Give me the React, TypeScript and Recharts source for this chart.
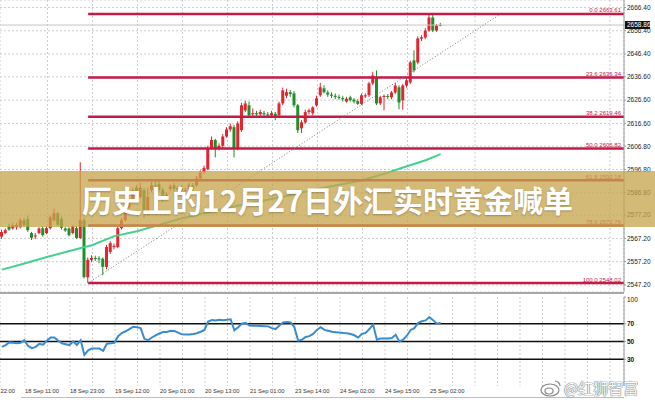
import React from 'react';
import {
  ComposedChart, Bar, Line, XAxis, YAxis, CartesianGrid, ReferenceLine,
} from 'recharts';

// hourly XAUUSD candles, oldest first
const OPEN = [
  2568, 2569.5, 2572.5, 2571.5, 2572, 2572, 2575, 2575.5, 2569.5, 2568,
  2569.5, 2571.5, 2569.5, 2571.6, 2575, 2578, 2575.5, 2571.5, 2571.5, 2569.5,
  2571.6, 2567.4, 2575, 2550.5, 2558, 2558.8, 2558.6, 2558.5, 2555, 2561.4,
  2563.5, 2563.5, 2571.6, 2575, 2580.6, 2583, 2589, 2585, 2588, 2578.1,
  2588, 2590, 2590.5, 2588, 2584.5, 2588.5, 2590, 2588, 2589, 2587.5,
  2588, 2590, 2590, 2593, 2595.5, 2597, 2606, 2609.5, 2606, 2607,
  2611, 2614, 2615, 2606, 2613.7, 2622.2, 2624.4, 2620.5, 2621, 2620.5,
  2621, 2620.5, 2620, 2620.8, 2620.1, 2625.2, 2628.5, 2630, 2629.5, 2624.4,
  2614.5, 2617, 2621.5, 2621, 2624.4, 2628.7, 2631.7, 2629.9, 2629, 2628.5,
  2628, 2627.5, 2626, 2627.8, 2626.8, 2626.2, 2625, 2628.2, 2628.7, 2633.8,
  2636.4, 2625.2, 2628, 2628.4, 2627.8, 2629.9, 2632.1, 2626.5, 2632.9, 2634.2,
  2643.7, 2642.8, 2653, 2653.5, 2656.5, 2662.1, 2656.5, 2658.9,
];
const HIGH = [
  2571, 2571.5, 2573.5, 2574, 2574, 2576, 2576, 2577, 2570, 2569.5,
  2572, 2572.5, 2572.5, 2577, 2580, 2578.5, 2576.5, 2572, 2572, 2573,
  2572.5, 2599.9, 2576, 2559, 2560, 2559.8, 2559.6, 2559, 2564.5, 2566,
  2565, 2572.5, 2576, 2579.5, 2585, 2589, 2590, 2591, 2589, 2589,
  2591.5, 2592, 2592, 2589, 2587, 2590.5, 2591, 2590, 2590, 2589,
  2591, 2591, 2594, 2596.5, 2598.5, 2607, 2611, 2610, 2608, 2612,
  2615, 2616.5, 2616, 2617.5, 2625.5, 2626.3, 2626, 2623, 2622, 2622.5,
  2622, 2621.5, 2622, 2621.5, 2626, 2632, 2631.5, 2631, 2630.5, 2625,
  2618, 2622.5, 2623, 2624, 2628.5, 2634, 2633, 2630.8, 2630, 2629.5,
  2629, 2628.5, 2628, 2628.5, 2627.5, 2627, 2629.5, 2629.5, 2634.5, 2638.8,
  2639.4, 2628.5, 2629, 2629.2, 2630.5, 2634, 2633, 2633.6, 2636, 2643.5,
  2648, 2654, 2654.5, 2657.5, 2663.61, 2663.2, 2659.3, 2659.8,
];
const LOW = [
  2567, 2569, 2570.5, 2571, 2571, 2571.5, 2572, 2570, 2566.5, 2567,
  2569, 2568, 2569, 2571, 2574.5, 2572.5, 2571, 2570, 2568, 2569,
  2567, 2567, 2550, 2548.02, 2557, 2557.5, 2556.5, 2551.4, 2554, 2560.5,
  2562.5, 2563, 2571, 2574.5, 2580, 2582.5, 2584, 2584.5, 2576, 2577,
  2587, 2588.5, 2587, 2583, 2583.5, 2587.5, 2587.5, 2586.5, 2586, 2586.5,
  2587, 2587.5, 2589.5, 2592.5, 2595, 2596.5, 2605.5, 2602, 2605, 2606,
  2610.5, 2613, 2602, 2605, 2613, 2621.5, 2619.5, 2619, 2619.5, 2619.5,
  2619.8, 2619, 2619.2, 2618, 2619.5, 2624.5, 2627.5, 2628, 2623.5, 2612.5,
  2612.5, 2616.5, 2620.5, 2620, 2623.8, 2628, 2629.5, 2628, 2627.5, 2627,
  2626.8, 2626, 2625.5, 2626, 2625.2, 2624.5, 2624.5, 2627.5, 2628, 2633,
  2624.5, 2624.5, 2622.2, 2627, 2627, 2629.2, 2622.7, 2622.5, 2632, 2633.5,
  2638.5, 2642, 2652, 2652.8, 2656, 2655.8, 2656, 2658.3,
];
const CLOSE = [
  2570, 2570.8, 2571, 2573, 2573, 2575, 2573, 2570.8, 2567.5, 2568.5,
  2571.5, 2568.6, 2571.6, 2576.3, 2578, 2573, 2571.8, 2570.6, 2568.6, 2572.5,
  2567.4, 2575, 2550.6, 2558, 2558.8, 2558.6, 2558.2, 2555, 2563.5, 2565.2,
  2564, 2571.6, 2575, 2578.5, 2583.6, 2587.9, 2585, 2589, 2578.1, 2585,
  2590, 2589.5, 2588, 2584.5, 2586, 2589.5, 2588.5, 2589, 2587.5, 2588,
  2590, 2588.5, 2593, 2595.5, 2597.5, 2606, 2609.5, 2605.5, 2607, 2611,
  2614, 2615.4, 2606, 2616.6, 2624.4, 2625.2, 2620.1, 2621, 2620.5, 2621.5,
  2620.5, 2620, 2621, 2619.8, 2625.2, 2630.8, 2630, 2629.2, 2624.4, 2613.7,
  2617.1, 2621.5, 2622.2, 2623.5, 2627.4, 2632.1, 2630, 2629, 2628.5, 2628,
  2627.6, 2627, 2627.2, 2626.6, 2626, 2625, 2628.7, 2628.7, 2633.8, 2637.2,
  2625.2, 2627.8, 2628.4, 2628.2, 2629.9, 2632.9, 2625.6, 2632.9, 2635.1, 2642.8,
  2639.4, 2653.1, 2653.6, 2656.5, 2662.1, 2656.5, 2658.7, 2658.86,
];

// RSI(14) per candle
const RSI = [
  44, 46, 49, 48.5, 48, 48.5, 51.5, 45, 42.5, 44,
  47.5, 46.5, 51, 54.5, 54.5, 51, 48, 47, 46, 50,
  46, 51.5, 35, 40, 42, 42, 42, 39.6, 47.5, 48,
  48.5, 56, 59.5, 61.5, 64, 66.5, 66, 65, 53, 51.5,
  54.5, 57, 59, 60.7, 60.7, 62, 61.8, 60, 58, 57.8,
  58, 58.5, 59.3, 61, 63, 72.5, 74, 73.5, 74.5, 74,
  74.4, 75, 62.6, 66, 70, 71, 68, 67.8, 67.6, 67.4,
  67.2, 67, 65, 64, 68, 71.5, 72, 71.5, 66, 51,
  52, 55, 56, 58.5, 63, 66, 63, 62, 61, 60.5,
  60, 59.6, 59.3, 58.5, 57, 54.5, 58.5, 59.6, 64, 69,
  52, 53.5, 53.3, 53.3, 54, 57.5, 50, 52, 56.5, 63,
  65, 71, 72.8, 73.7, 77.4, 74, 70, 71,
];

// moving average, sampled at these candle indexes
const MA_BARS = [0, 6, 12, 18, 24, 30, 36, 42, 48, 54, 60, 66, 72, 78, 84, 90, 96, 102, 108, 113, 117];
const MA_VALUES = [
  2553.8, 2556.4, 2559.2, 2561.8, 2564.3, 2568.2, 2570.3, 2573.1, 2575.9, 2578.1,
  2580.2, 2582.4, 2584.1, 2586.2, 2588.4, 2590.3, 2592.2, 2595.0, 2598.2, 2600.8, 2603.4,
];

// Fibonacci retracement drawn from the swing low to the swing high
const FIB_LABELS = ['0.0', '23.6', '38.2', '50.0', '61.8', '78.6', '100.0'];
const FIB_PRICES = [2663.61, 2636.34, 2619.46, 2605.82, 2592.18, 2572.76, 2548.02];
const FIB_FROM_BAR = 23;
const FIB_TO_BAR = 133;

const LAST_PRICE = 2658.86;

const PRICE_TICKS = [2666.4, 2656.4, 2646.4, 2636.6, 2626.6, 2616.6, 2606.8, 2596.8, 2586.8, 2577.2, 2567.2, 2557.2, 2547.2];
const RSI_MAX = 100;
const RSI_LEVELS = [70, 50, 30];
const TIME_LABELS = [
  '17 Sep 22:00', '18 Sep 11:00', '18 Sep 23:00', '19 Sep 12:00', '20 Sep 01:00', '20 Sep 13:00',
  '21 Sep 01:00', '23 Sep 14:00', '24 Sep 02:00', '24 Sep 15:00', '25 Sep 02:00',
];

const W = 655;
const AXIS_W = 31;
const SLOTS = 166.4; // bar slots across the plot, incl. right shift
const FIRST_LABEL_BAR = 6.67;
const BARS_PER_LABEL = 12;

const RED = '#e2262f';
const GREEN = '#1f8f2a';
const FIB_COLOR = '#c41a48';
const MA_COLOR = '#46d08e';
const RSI_COLOR = '#3a8cd0';
const GRID = '#cdcdcd';
const FONT = '"Liberation Sans", Arial, sans-serif';

const candles = OPEN.map((o, i) => ({
  x: i + 0.5, open: o, high: HIGH[i], low: LOW[i], close: CLOSE[i], rsi: RSI[i],
}));
const maData = MA_BARS.map((b, i) => ({ x: b + 0.5, ma: MA_VALUES[i] }));
const trendData = [
  { x: FIB_FROM_BAR + 0.5, trend: FIB_PRICES[FIB_PRICES.length - 1] },
  { x: FIB_TO_BAR + 0.5, trend: FIB_PRICES[0] },
];

// grid every half label step, labels on every other one
const gridTicks: number[] = [];
for (let t = FIRST_LABEL_BAR; t < SLOTS; t += BARS_PER_LABEL / 2) gridTicks.push(t);

const Candle = (props: any) => {
  const { x, y, width, height, payload } = props;
  const { open, close, high, low } = payload;
  const color = close >= open ? RED : GREEN;
  const k = height / (high - low);
  const top = y + (high - Math.max(open, close)) * k;
  const bot = y + (high - Math.min(open, close)) * k;
  const cx = x + width / 2;
  return (
    <g>
      <line x1={cx} x2={cx} y1={y} y2={y + height} stroke={color} strokeWidth={1} />
      <rect x={x} y={top} width={width} height={Math.max(bot - top, 1)} fill={color} />
    </g>
  );
};

const fibLabel = (text: string) => (p: any) => {
  const vb = p.viewBox;
  return (
    <text x={vb.x + vb.width - 3} y={vb.y - 1.5} textAnchor="end" fontSize={6} fill={FIB_COLOR} fontFamily={FONT}>
      {text}
    </text>
  );
};

const priceBox = (p: any) => {
  const vb = p.viewBox;
  const x0 = vb.x + vb.width;
  return (
    <g>
      <rect x={x0 + 1} y={vb.y - 4} width={25} height={8} fill="#111" />
      <text x={x0 + 3} y={vb.y} dy="0.35em" fontSize={6.5} fill="#fff" fontFamily={FONT}>
        {LAST_PRICE.toFixed(2)}
      </text>
    </g>
  );
};

const TimeTick = (props: any) => {
  const { x, y, index } = props;
  if (index % 2 !== 0) return <g />;
  const j = index / 2 + 1;
  return (
    <g fontSize={5.8} fill="#333" fontFamily={FONT}>
      {/* the label before the first tick only shows its time part at the left edge */}
      {j === 1 && <text x={0.5} y={y + 7}>{TIME_LABELS[0].split(' ').pop()}</text>}
      {TIME_LABELS[j] && <text x={x} y={y + 7}>{TIME_LABELS[j]}</text>}
    </g>
  );
};

// scale labels; the top one sits just under the window edge
const RsiTick = (props: any) => {
  const { x, y, payload } = props;
  const top = payload.value === RSI_MAX;
  return (
    <text x={x} y={y + (top ? 3 : 0)} dy="0.35em" fontSize={6.5} fontFamily={FONT}
      fontWeight={top ? 'normal' : 'bold'} fill="#111">
      {payload.value}
    </text>
  );
};

function PriceChart() {
  return (
    <ComposedChart width={W} height={292} data={candles} margin={{ top: 0, right: 0, bottom: 0, left: 0 }}>
      <CartesianGrid stroke={GRID} strokeDasharray="2 2" />
      <XAxis dataKey="x" type="number" domain={[0, SLOTS]} ticks={gridTicks} allowDataOverflow hide />
      <YAxis
        orientation="right" width={AXIS_W} domain={[2544.19, 2669.62]} allowDataOverflow
        ticks={PRICE_TICKS} interval={0} tickSize={2} tickMargin={1}
        tickFormatter={(v: number) => v.toFixed(2)}
        tick={{ fontSize: 6.5, fill: '#222', fontFamily: FONT }}
        axisLine={{ stroke: '#9a9a9a' }} tickLine={{ stroke: '#9a9a9a' }}
      />
      <ReferenceLine y={LAST_PRICE} stroke="#c4c4c4" strokeWidth={1} label={priceBox} />
      <Line data={maData} dataKey="ma" stroke={MA_COLOR} strokeWidth={2}
        dot={false} activeDot={false} isAnimationActive={false} />
      <Bar dataKey={(d: any) => [d.low, d.high]} barSize={3} shape={Candle} activeBar={false} isAnimationActive={false} />
      {FIB_PRICES.map((p, i) => (
        <ReferenceLine
          key={p}
          segment={[{ x: FIB_FROM_BAR + 0.5, y: p }, { x: SLOTS, y: p }]}
          stroke={FIB_COLOR} strokeWidth={2.5}
          label={fibLabel(`${FIB_LABELS[i]} ${p.toFixed(2)}`)}
        />
      ))}
      <Line data={trendData} dataKey="trend" stroke="#7a7a7a" strokeWidth={1} strokeDasharray="1 2"
        dot={false} activeDot={false} isAnimationActive={false} />
    </ComposedChart>
  );
}

function RsiChart() {
  return (
    <ComposedChart width={W} height={108} data={candles} margin={{ top: 5, right: 0, bottom: 0, left: 0 }}>
      <CartesianGrid stroke={GRID} strokeDasharray="2 2" horizontal={false} />
      <XAxis
        dataKey="x" type="number" domain={[0, SLOTS]} ticks={gridTicks} interval={0} allowDataOverflow
        height={14} axisLine={false} tickLine={false} tickSize={0} tickMargin={0} tick={TimeTick}
      />
      <YAxis
        orientation="right" width={AXIS_W} domain={[0, RSI_MAX]} allowDataOverflow
        ticks={[RSI_MAX, ...RSI_LEVELS]} interval={0} tickSize={2} tickMargin={1} tick={RsiTick}
        axisLine={{ stroke: '#9a9a9a' }} tickLine={{ stroke: '#9a9a9a' }}
      />
      {RSI_LEVELS.map(v => (
        <ReferenceLine key={v} y={v} stroke="#111" strokeWidth={1.5} />
      ))}
      <Line dataKey="rsi" stroke={RSI_COLOR} strokeWidth={2} dot={false} activeDot={false} isAnimationActive={false} />
    </ComposedChart>
  );
}

export default function App() {
  return (
    <div style={{ position: 'relative', width: W, height: 400, overflow: 'hidden', background: '#fff' }}>
      <style>{'body{margin:0}'}</style>
      <div style={{ position: 'absolute', left: 0, top: 0 }}>
        <PriceChart />
      </div>
      <div style={{ position: 'absolute', left: 0, top: 292 }}>
        <RsiChart />
      </div>
      <div style={{ position: 'absolute', left: 0, top: 292, width: W - AXIS_W, height: 2, background: '#a8a8a8' }} />
      <div style={{ position: 'absolute', left: 21, top: 397, width: W - AXIS_W - 21, height: 1, background: '#bdbdbd' }} />

      {/* headline banner */}
      <div style={{
        position: 'absolute', left: 0, top: 171, width: W, height: 56,
        background: 'rgba(198, 164, 76, 0.76)',
        display: 'flex', alignItems: 'center', justifyContent: 'center',
      }}>
        <span style={{
          color: '#fff', fontSize: 30, fontWeight: 700,
          fontFamily: '"Noto Sans CJK SC", sans-serif',
          textShadow: '0 1px 2px rgba(0,0,0,0.25)',
        }}>
          历史上的12月27日外汇实时黄金喊单
        </span>
      </div>

      {/* watermark */}
      <div style={{
        position: 'absolute', left: 540, top: 377, display: 'flex', alignItems: 'center',
        fontFamily: '"Noto Sans CJK SC", sans-serif', fontSize: 15, color: '#fff',
        textShadow: '0 0 1px #777, 0 0 1px #777, 0 0 1px #777',
      }}>
        <svg width={22} height={18} viewBox="0 0 22 18" style={{ marginRight: 2 }}>
          <ellipse cx={10} cy={11} rx={9} ry={6} fill="#fff" stroke="#888" strokeWidth={1.2} />
          <ellipse cx={9} cy={12} rx={4} ry={3} fill="#fff" stroke="#888" strokeWidth={1.2} />
          <path d="M15 2 a5 5 0 0 1 5 5" fill="none" stroke="#888" strokeWidth={1.2} />
        </svg>
        <span>@红狮智富</span>
      </div>
    </div>
  );
}
